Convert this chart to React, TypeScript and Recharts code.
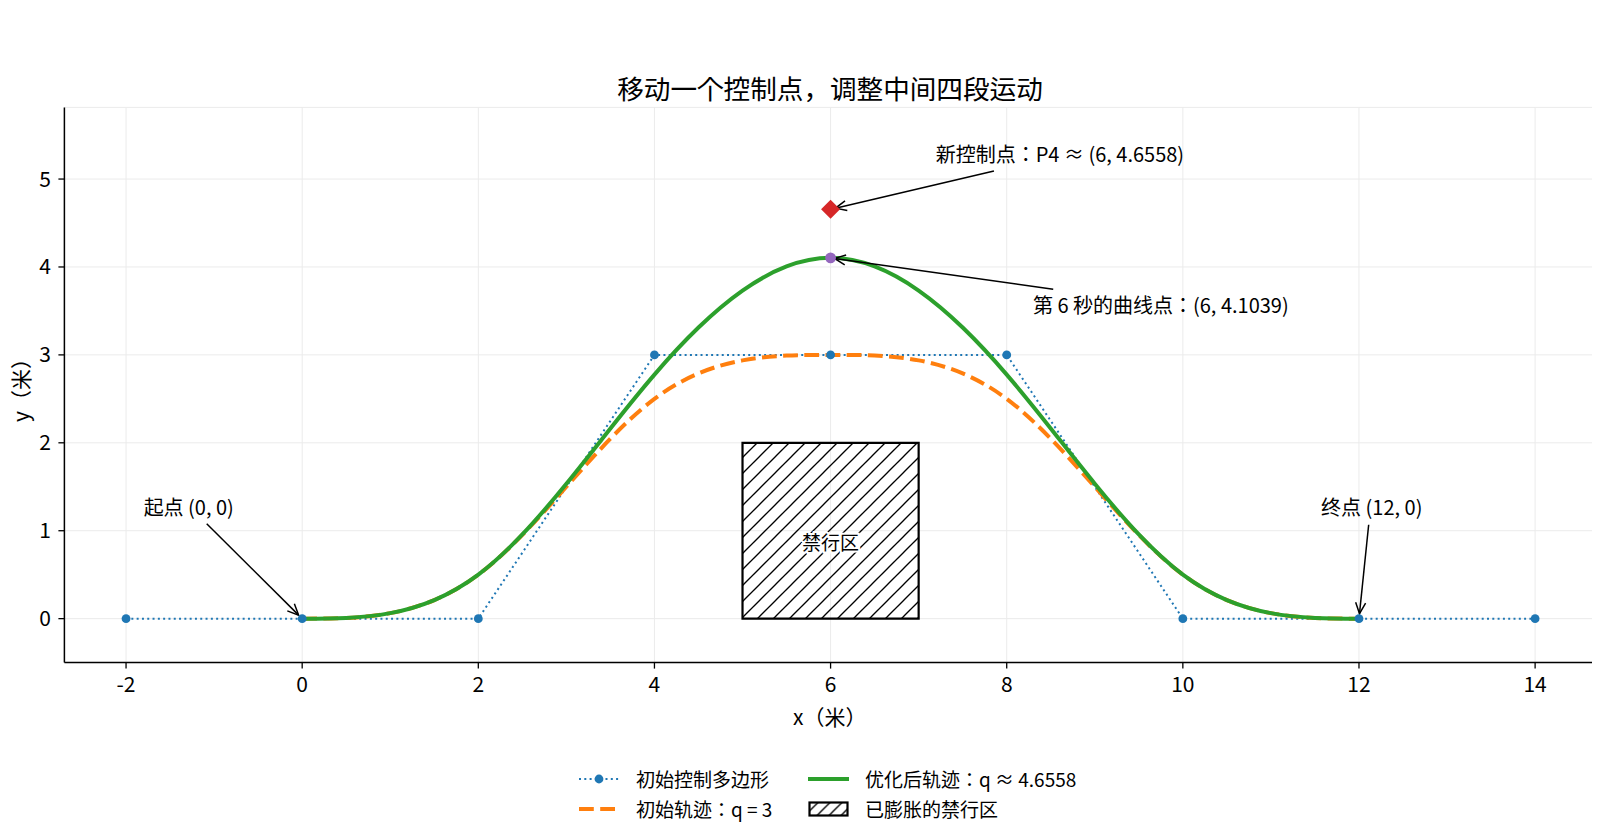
import React from 'react';
import {
  LineChart,
  Line,
  XAxis,
  YAxis,
  CartesianGrid,
  ReferenceArea,
  ReferenceDot,
  ReferenceLine,
} from 'recharts';

// ---- data ----
const ctrlX = [-2, 0, 2, 4, 6, 8, 10, 12, 14];
const ctrlY = [0, 0, 0, 3, 3, 3, 0, 0, 0];

const curveX = [0, 0.5, 1, 1.5, 2, 2.5, 3, 3.5, 4, 4.5, 5, 5.5, 6, 6.5, 7, 7.5, 8, 8.5, 9, 9.5, 10, 10.5, 11, 11.5, 12];
const initialY = [0, 0.0078, 0.0625, 0.2109, 0.5, 0.9531, 1.5, 2.0469, 2.5, 2.7891, 2.9375, 2.9922, 3, 2.9922, 2.9375, 2.7891, 2.5, 2.0469, 1.5, 0.9531, 0.5, 0.2109, 0.0625, 0.0078, 0];
const optimizedY = [0, 0.0078, 0.0625, 0.2109, 0.5, 0.9574, 1.5345, 2.1633, 2.776, 3.3108, 3.7309, 4.0055, 4.1039, 4.0055, 3.7309, 3.3108, 2.776, 2.1633, 1.5345, 0.9574, 0.5, 0.2109, 0.0625, 0.0078, 0];

const newControl = { x: 6, y: 4.6558 };
const curvePoint6 = { x: 6, y: 4.1039 };
const zone = { x1: 5, x2: 7, y1: 0, y2: 2 };

const xTicks = [-2, 0, 2, 4, 6, 8, 10, 12, 14];
const yTicks = [0, 1, 2, 3, 4, 5];
const xDomain = [-2.7, 14.68];
const yDomain = [-0.5, 5.815];

const title = '移动一个控制点，调整中间四段运动';
const xLabel = 'x（米）';
const yLabel = 'y（米）';
const zoneLabel = '禁行区';
const legendLabels = ['初始控制多边形', '初始轨迹：q = 3', '优化后轨迹：q ≈ 4.6558', '已膨胀的禁行区'];

const annotations = [
  { text: '起点 (0, 0)', tx: -1.288, ty: 1.273, ax: -1.084, ay: 1.08, px: 0, py: 0, shrink: 5 },
  { text: '终点 (12, 0)', tx: 12.145, ty: 1.273, ax: 12.11, ay: 1.068, px: 12, py: 0, shrink: 5 },
  { text: '新控制点：P4 ≈ (6, 4.6558)', tx: 8.604, ty: 5.293, ax: 7.855, ay: 5.092, px: 6, py: 4.6558, shrink: 5 },
  { text: '第 6 秒的曲线点：(6, 4.1039)', tx: 9.75, ty: 3.573, ax: 8.528, ay: 3.746, px: 6, py: 4.1039, shrink: 4 },
];

const ctrlData = ctrlX.map((x, i) => ({ x, y: ctrlY[i] }));
const initialData = curveX.map((x, i) => ({ x, y: initialY[i] }));
const optimizedData = curveX.map((x, i) => ({ x, y: optimizedY[i] }));

const FONT = '"Noto Sans CJK JP", "Noto Sans CJK SC", "Noto Sans", sans-serif';
const BLUE = '#1f77b4';
const ORANGE = '#ff7f0e';
const GREEN = '#2ca02c';
const RED = '#d62728';
const PURPLE = '#9467bd';

const W = 1592;
const H = 821;
const TICK_FS = 21;
const LABEL_FS = 21;
const ANNO_FS = 20;
const LEGEND_FS = 19;

const arrowShape = (p: any, shrink: number) => {
  const { x1, y1, x2, y2 } = p;
  const dx = x2 - x1;
  const dy = y2 - y1;
  const len = Math.hypot(dx, dy) || 1;
  const ux = dx / len;
  const uy = dy / len;
  const ex = x2 - ux * shrink;
  const ey = y2 - uy * shrink;
  const hl = 11;
  const hw = 5;
  const bx = ex - ux * hl;
  const by = ey - uy * hl;
  const nx = -uy;
  const ny = ux;
  return (
    <g>
      <line x1={x1} y1={y1} x2={ex} y2={ey} stroke="#000" strokeWidth={1.5} />
      <polyline
        points={`${bx + nx * hw},${by + ny * hw} ${ex},${ey} ${bx - nx * hw},${by - ny * hw}`}
        fill="none"
        stroke="#000"
        strokeWidth={1.5}
      />
    </g>
  );
};

const textShape = (text: string, size: number, halo = false) => (p: any) => (
  <text
    x={p.cx}
    y={p.cy}
    textAnchor="middle"
    dominantBaseline="central"
    fontFamily={FONT}
    fontSize={size}
    fill="#000"
    stroke={halo ? '#fff' : undefined}
    strokeWidth={halo ? 4 : undefined}
    paintOrder="stroke"
  >
    {text}
  </text>
);

const diamondShape = (p: any) => {
  const s = 9.5;
  return (
    <polygon
      points={`${p.cx},${p.cy - s} ${p.cx + s},${p.cy} ${p.cx},${p.cy + s} ${p.cx - s},${p.cy}`}
      fill={RED}
    />
  );
};

const dotShape = (p: any) => <circle cx={p.cx} cy={p.cy} r={5.4} fill={PURPLE} />;

const LegendIcon = ({ kind }: { kind: number }) => {
  if (kind === 0)
    return (
      <svg width={40} height={16} style={{ display: 'block' }}>
        <line x1={0} y1={8} x2={40} y2={8} stroke={BLUE} strokeWidth={2} strokeDasharray="2 3.3" />
        <circle cx={20} cy={8} r={4.4} fill={BLUE} />
      </svg>
    );
  if (kind === 1)
    return (
      <svg width={40} height={16} style={{ display: 'block' }}>
        <line x1={0} y1={8} x2={40} y2={8} stroke={ORANGE} strokeWidth={4} strokeDasharray="14.8 6.4" />
      </svg>
    );
  if (kind === 2)
    return (
      <svg width={41} height={16} style={{ display: 'block' }}>
        <line x1={0} y1={8} x2={41} y2={8} stroke={GREEN} strokeWidth={4} />
      </svg>
    );
  return (
    <svg width={41} height={17} style={{ display: 'block' }}>
      <defs>
        <pattern id="hatchLegend" patternUnits="userSpaceOnUse" width={12} height={12}>
          <line x1={0} y1={12} x2={12} y2={0} stroke="#000" strokeWidth={1.3} />
          <line x1={-3} y1={3} x2={3} y2={-3} stroke="#000" strokeWidth={1.3} />
          <line x1={9} y1={15} x2={15} y2={9} stroke="#000" strokeWidth={1.3} />
        </pattern>
      </defs>
      <rect x={1.5} y={2} width={38} height={13} fill="url(#hatchLegend)" stroke="#000" strokeWidth={2.2} />
    </svg>
  );
};

const legendItems = [
  { kind: 0, left: 571, top: 771.3, textLeft: 628 },
  { kind: 1, left: 571, top: 801.3, textLeft: 628 },
  { kind: 2, left: 800, top: 771.3, textLeft: 857 },
  { kind: 3, left: 800, top: 801.3, textLeft: 857 },
];

export default function App() {
  return (
    <div style={{ position: 'relative', width: W, height: H, fontFamily: FONT, background: '#fff' }}>
      <div
        style={{
          position: 'absolute',
          left: 0,
          width: 1644,
          top: 79.5,
          transform: 'translateY(-50%)',
          textAlign: 'center',
          fontSize: 26.6,
          lineHeight: 1.2,
          color: '#000',
          fontFamily: FONT,
          whiteSpace: 'nowrap',
        }}
      >
        {title}
      </div>
      <div style={{ position: 'absolute', left: 0, top: 0 }}>
        <LineChart width={W} height={H} margin={{ top: 99.4, right: 5, left: 0, bottom: 106.4 }}>
          <defs>
            <pattern id="hatchZone" patternUnits="userSpaceOnUse" width={16} height={16}>
              <line x1={0} y1={16} x2={16} y2={0} stroke="#000" strokeWidth={1.3} />
              <line x1={-4} y1={4} x2={4} y2={-4} stroke="#000" strokeWidth={1.3} />
              <line x1={12} y1={20} x2={20} y2={12} stroke="#000" strokeWidth={1.3} />
            </pattern>
          </defs>
          <CartesianGrid stroke="#ebebeb" strokeWidth={1} />
          <XAxis
            type="number"
            dataKey="x"
            domain={xDomain}
            ticks={xTicks}
            allowDataOverflow
            height={60}
            tickSize={6}
            tickMargin={8.5}
            axisLine={{ stroke: '#000', strokeWidth: 1.5 }}
            tickLine={{ stroke: '#000', strokeWidth: 1.3 }}
            tick={{ fill: '#000', fontSize: TICK_FS, fontFamily: FONT }}
            label={{
              content: (p: any) => {
                const vb = p.viewBox;
                return (
                  <text
                    x={vb.x + vb.width / 2}
                    y={708}
                    textAnchor="middle"
                    dominantBaseline="central"
                    fontFamily={FONT}
                    fontSize={LABEL_FS}
                    fill="#000"
                  >
                    {xLabel}
                  </text>
                );
              },
            }}
          />
          <YAxis
            type="number"
            dataKey="y"
            domain={yDomain}
            ticks={yTicks}
            allowDataOverflow
            width={56.4}
            tickSize={6}
            tickMargin={7.5}
            axisLine={{ stroke: '#000', strokeWidth: 1.5 }}
            tickLine={{ stroke: '#000', strokeWidth: 1.3 }}
            tick={{ fill: '#000', fontSize: TICK_FS, fontFamily: FONT }}
          />
          <ReferenceArea
            x1={zone.x1}
            x2={zone.x2}
            y1={zone.y1}
            y2={zone.y2}
            fill="url(#hatchZone)"
            fillOpacity={1}
            stroke="#000"
            strokeWidth={2.2}
          />
          <ReferenceDot x={6} y={0.88} r={0} shape={textShape(zoneLabel, LEGEND_FS, true)} />
          <Line
            data={ctrlData}
            dataKey="y"
            stroke={BLUE}
            strokeWidth={2}
            strokeDasharray="2 3.3"
            dot={{ r: 4.4, fill: BLUE, stroke: BLUE, strokeWidth: 0 }}
            activeDot={false}
            isAnimationActive={false}
            type="linear"
          />
          <Line
            data={initialData}
            dataKey="y"
            stroke={ORANGE}
            strokeWidth={4}
            strokeDasharray="14.8 6.4"
            dot={false}
            activeDot={false}
            isAnimationActive={false}
            type="natural"
          />
          <Line
            data={optimizedData}
            dataKey="y"
            stroke={GREEN}
            strokeWidth={4}
            dot={false}
            activeDot={false}
            isAnimationActive={false}
            type="natural"
          />
          <ReferenceDot x={newControl.x} y={newControl.y} r={9} shape={diamondShape} />
          <ReferenceDot x={curvePoint6.x} y={curvePoint6.y} r={5.4} shape={dotShape} />
          {annotations.map((a, i) => (
            <ReferenceLine
              key={'al' + i}
              segment={[
                { x: a.ax, y: a.ay },
                { x: a.px, y: a.py },
              ]}
              shape={(p: any) => arrowShape(p, a.shrink)}
            />
          ))}
          {annotations.map((a, i) => (
            <ReferenceDot key={'at' + i} x={a.tx} y={a.ty} r={0} shape={textShape(a.text, ANNO_FS)} />
          ))}
        </LineChart>
      </div>
      <div
        style={{
          position: 'absolute',
          left: 12,
          top: 377,
          transform: 'translate(-50%, -50%) rotate(-90deg)',
          fontSize: LABEL_FS,
          lineHeight: 1,
          fontFamily: FONT,
          color: '#000',
          whiteSpace: 'nowrap',
        }}
      >
        {yLabel}
      </div>
      {legendItems.map((it, i) => (
        <React.Fragment key={i}>
          <div style={{ position: 'absolute', left: it.left, top: it.top, transform: 'translateY(-50%)' }}>
            <LegendIcon kind={it.kind} />
          </div>
          <div
            style={{
              position: 'absolute',
              left: it.textLeft,
              top: it.top,
              transform: 'translateY(-50%)',
              fontSize: LEGEND_FS,
              lineHeight: 1.2,
              fontFamily: FONT,
              color: '#000',
              whiteSpace: 'nowrap',
            }}
          >
            {legendLabels[it.kind]}
          </div>
        </React.Fragment>
      ))}
    </div>
  );
}
